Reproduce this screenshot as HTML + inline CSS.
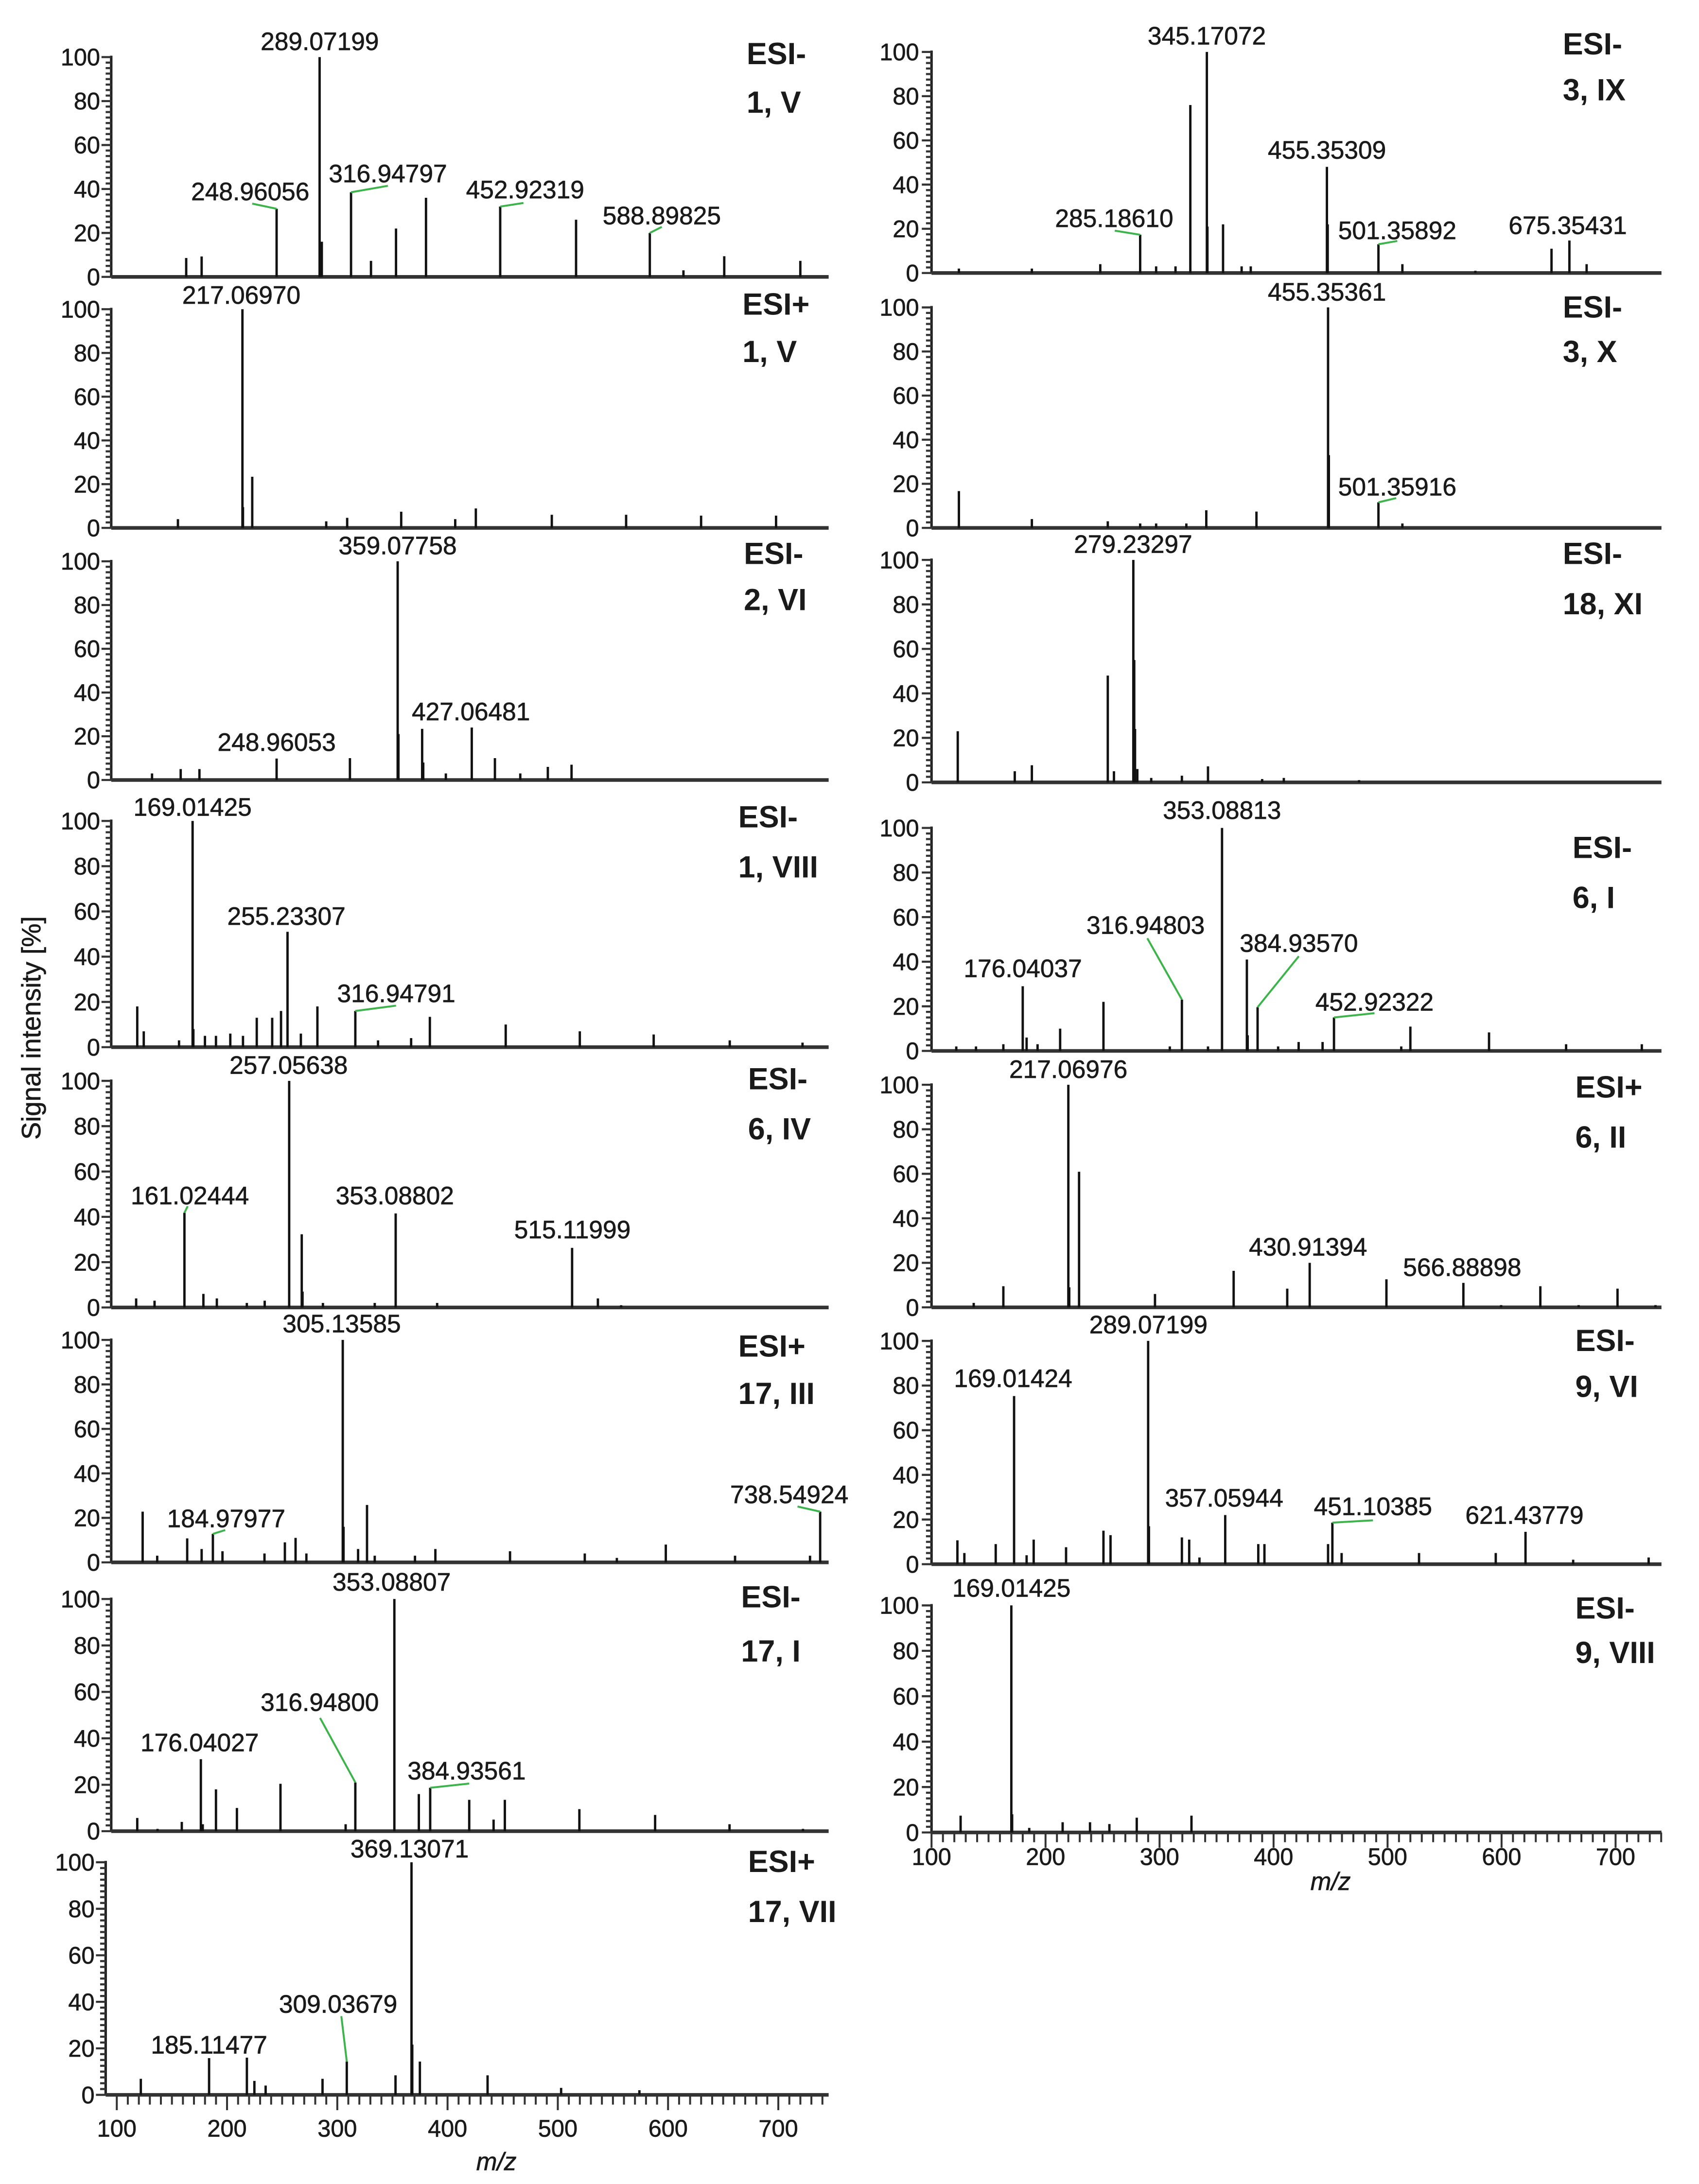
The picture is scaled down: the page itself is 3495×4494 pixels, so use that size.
<!DOCTYPE html>
<html><head><meta charset="utf-8"><title>Mass spectra</title>
<style>
html,body{margin:0;padding:0;background:#fff;}
svg{display:block;}
text{font-family:"Liberation Sans",sans-serif;fill:#1a1a1a;stroke:#1a1a1a;stroke-width:0.25;}
</style></head>
<body>
<svg id="fig" xmlns="http://www.w3.org/2000/svg" width="3495" height="4494" viewBox="0 0 1222 1568" preserveAspectRatio="none">
<rect x="0" y="0" width="1222" height="1568" fill="#ffffff"/>
<text transform="translate(29,738) rotate(-90)" text-anchor="middle" font-size="19">Signal intensity [%]</text>
</svg>
<script>
// ===== data: m/z values and relative intensities per spectrum =====
const p1_mz=[168,182,250,289,291,317.5,335.6,358.3,385.5,452.8,521.6,588.5,619,656,725];
const p1_int=[8.6,9.3,31,100,16,38.5,7.3,22,36,32,26,20,3,9.4,7.3];
const p1_lab=["289.07199","248.96056","316.94797","452.92319","588.89825"];
const p2_mz=[160.5,219,219.5,227.9,295,314,363,412,430.7,499.6,567,635,703];
const p2_int=[4,100,9.5,23.4,3,4.6,7.4,4,8.9,6,6,5.6,5.6];
const p2_lab=["217.06970"];
const p3_mz=[137,163,180,250,316.5,359.8,360.5,382,383,403.5,427,448,471,496,517.5];
const p3_int=[3,5,5,9.8,10,100,21,23.4,8,3,24,10,3,6,7];
const p3_lab=["359.07758","248.96053","427.06481"];
const p4_mz=[123.6,129.5,161.5,173.8,174.5,185,195,208,219.5,232,246,254,259.9,272,287,321.4,342,372,389,457.8,525,592,661,727];
const p4_int=[18,7,3,100,8,5,5,6,5,13,13,16,51,6,18,16,3,4,13.4,10,7,5.6,3,2];
const p4_lab=["169.01425","255.23307","316.94791"];
const p5_mz=[122.6,139.3,166.4,183.6,195.8,223,239.2,261.4,272.8,273.5,292,339,358,395.6,518,541.4,562.5];
const p5_int=[4,3,41.8,6,4,2,3,100,32.3,7,2,2,41.5,2,26.3,4,1];
const p5_lab=["257.05638","161.02444","353.08802","515.11999"];
const p6_mz=[128.5,141.7,168.9,182,192.2,200.9,239,257.5,267.2,277,310,310.7,323.9,332,339,375.5,394,461.7,529.5,558.6,603,665.8,733.8,743];
const p6_int=[22.8,3,10.8,6,12.8,5,4,9,11,4,100,16,6,25.8,3,3,6,5,4,2,8,3,3,22.8];
const p6_lab=["305.13585","184.97977","738.54924"];
const p7_mz=[123.6,142,164,181.3,183,195,214,253.5,312.6,321.4,356.8,379,389.3,424.7,446.8,457,524.6,593.3,660.8,727.4];
const p7_int=[5.7,1,4,31,3,18,10,20.4,3,21,100,16,18.7,13.5,5,13.5,9.5,7,3,1];
const p7_lab=["353.08807","316.94800","176.04027","384.93561"];
const p8_mz=[121.8,183.7,218,224.8,235,286.6,308.6,352.8,367.3,368,374.9,436.3,503,574];
const p8_int=[6.9,15.8,16,6,4,6.9,14.3,8.4,100,21.6,14.3,8.4,3,2];
const p8_lab=["369.13071","309.03679","185.11477"];
const r1_mz=[124,188,248,283,297,314,327,341.5,342,355.7,372,380,446.8,447.5,492,513,577,643.8,659.5,674.6];
const r1_int=[2,2,4,17.3,3,3,76,100,21,22,3,3,48,22,13,4,1,11,14.7,4];
const r1_lab=["345.17072","285.18610","455.35309","501.35892","675.35431"];
const r2_mz=[124,188,254.6,283,297,323.5,341,385,447.8,448.5,492,513];
const r2_int=[16.7,4,3,2,2,2,8,7.4,100,33,11.6,2];
const r2_lab=["455.35361","501.35916"];
const r3_mz=[123,173,188,254.6,260,277,277.8,278.5,280.5,292.7,319.6,342.5,390,409,475];
const r3_int=[23,5,7.7,48,5,100,55,24,6,2,3,7.2,1.5,2,1];
const r3_lab=["279.23297"];
const r4_mz=[121.7,139,163,180,183.4,193,212.8,250.8,309,319.6,342.5,354.8,376.6,377.3,386,404,422,443,453,512,520,589,656.6,723];
const r4_int=[2,2,3,29,6,3,10,22,2,23,2,100,41,7,19.6,2,4,4,15,2,10.9,8.3,3,3];
const r4_lab=["353.08813","176.04037","316.94803","384.93570","452.92322"];
const r5_mz=[137,163,220,220.8,229.4,296,365,412,431.7,499,566.5,599.6,634,667.6,701.7,735];
const r5_int=[2,9.5,100,9,60.9,6,16.4,8.4,20,12.6,11,1,9.5,1,8.4,1];
const r5_lab=["217.06976","430.91394","566.88898"];
const r6_mz=[122.7,128.8,156.3,172.4,183.4,189.6,218,250.8,257,290,290.7,319.6,326,335,357.6,386.6,392,447.8,451.6,459.7,527.6,594.9,621,662.8,729];
const r6_int=[10.7,5,9,75.3,4,11,7.6,15,13,100,17,12,11,3,22,9,9,9,18.6,5,5,5,14.5,2,3];
const r6_lab=["289.07199","169.01424","357.05944","451.10385","621.43779"];
const r7_mz=[125.5,170,170.7,185.7,215,239,256,280,328];
const r7_int=[7.4,100,8,2,4.5,4.5,3.7,6.5,7.4];
const r7_lab=["169.01425"];
const xTickValues=[100,200,300,400,500,600,700];
const yTickValues=[0,20,40,60,80,100];

// ===== layout (positions only) =====
const L={ax:80,x0:80,k:0.793,xEnd:596,lblEnd:72};
const R={ax:670,x0:670,k:0.82,xEnd:1195,lblEnd:661};
const panels=[
 {name:'esi-neg-1-v',c:L,mz:p1_mz,it:p1_int,lab:p1_lab,y0:198.8,y100:41,t:['ESI-','1, V'],tx:537,ty:[46,81],
  ll:[[230,35.9,-1],[180,143.7,2,181.4,146.2],[279,130.8,5,279,133.4],[377.7,142.4,9,376.5,145.7],[476,161,11,476,162.9]]},
 {name:'esi-pos-1-v',c:L,mz:p2_mz,it:p2_int,lab:p2_lab,y0:379,y100:222,t:['ESI+','1, V'],tx:534,ty:[226,260],
  ll:[[173.6,218,-1]]},
 {name:'esi-neg-2-vi',c:L,mz:p3_mz,it:p3_int,lab:p3_lab,y0:560,y100:403,t:['ESI-','2, VI'],tx:535,ty:[405,438],
  ll:[[286,398,-1],[199,539,-1],[338.7,517,-1]]},
 {name:'esi-neg-1-viii',c:L,mz:p4_mz,it:p4_int,lab:p4_lab,y0:751.8,y100:589.4,t:['ESI-','1, VIII'],tx:531,ty:[594,630],
  ll:[[138.5,585.7,-1],[206,664,-1],[285,719.5,15,284.8,722]]},
 {name:'esi-neg-6-iv',c:L,mz:p5_mz,it:p5_int,lab:p5_lab,y0:938.7,y100:776,t:['ESI-','6, IV'],tx:538,ty:[782,818],
  ll:[[207.6,771,-1],[136.6,864.6,2,135,866],[284,864.6,-1],[411.7,889,-1]]},
 {name:'esi-pos-17-iii',c:L,mz:p6_mz,it:p6_int,lab:p6_lab,y0:1121.7,y100:962,t:['ESI+','17, III'],tx:531,ty:[974,1008],
  ll:[[245.8,956.6,-1],[162.7,1096.4,4,162,1098.5],[567.7,1079.2,23,573.6,1081.6]]},
 {name:'esi-neg-17-i',c:L,mz:p7_mz,it:p7_int,lab:p7_lab,y0:1314.7,y100:1148,t:['ESI-','17, I'],tx:533,ty:[1154,1193],
  ll:[[281.7,1142,-1],[230,1228.4,9,230.2,1233.4],[143.6,1257.3,-1],[335.6,1277.6,12,337.5,1280.5]]},
 {name:'esi-pos-17-vii',c:{ax:76,x0:84,k:0.793,xEnd:596,lblEnd:68},mz:p8_mz,it:p8_int,lab:p8_lab,y0:1504,y100:1337,t:['ESI+','17, VII'],tx:538,ty:[1344,1380],
  ll:[[294.6,1333.5,-1],[243.2,1445,6,245.5,1447.5],[150.4,1474.3,-1]],bottom:{tickBase:1534,mzx:357,mzy:1558}},
 {name:'esi-neg-3-ix',c:R,mz:r1_mz,it:r1_int,lab:r1_lab,y0:196,y100:37.3,t:['ESI-','3, IX'],tx:1124,ty:[39,72],
  ll:[[868,31.9,-1],[801.4,163,3,801.8,165.6],[954.4,114,-1],[1005,171.7,14,1005,173],[1127.6,168,-1]]},
 {name:'esi-neg-3-x',c:R,mz:r2_mz,it:r2_int,lab:r2_lab,y0:379,y100:220.7,t:['ESI-','3, X'],tx:1124,ty:[228,260],
  ll:[[954.4,215.8,-1],[1005,355.7,10,1004.2,357.6]]},
 {name:'esi-neg-18-xi',c:R,mz:r3_mz,it:r3_int,lab:r3_lab,y0:561.7,y100:402,t:['ESI-','18, XI'],tx:1124,ty:[405,441],
  ll:[[815,396.9,-1]]},
 {name:'esi-neg-6-i',c:R,mz:r4_mz,it:r4_int,lab:r4_lab,y0:754.5,y100:594.4,t:['ESI-','6, I'],tx:1131,ty:[616,652],
  ll:[[878.9,588,-1],[735.7,701.5,-1],[824,670.4,9,825.2,673.6],[934.2,683.4,14,934.2,686.5],[988.6,725.5,18,988.6,727.4]]},
 {name:'esi-pos-6-ii',c:R,mz:r5_mz,it:r5_int,lab:r5_lab,y0:938.6,y100:778.8,t:['ESI+','6, II'],tx:1133,ty:[788,824],
  ll:[[768.4,773.8,-1],[940.8,901.4,-1],[1051.7,916,-1]]},
 {name:'esi-neg-9-vi',c:R,mz:r6_mz,it:r6_int,lab:r6_lab,y0:1123,y100:962.7,t:['ESI-','9, VI'],tx:1133,ty:[970,1003],
  ll:[[826,957.3,-1],[728.7,995.8,-1],[880.5,1081.6,-1],[987.5,1087.8,18,987.5,1091.5],[1096.5,1094,-1]]},
 {name:'esi-neg-9-viii',c:R,mz:r7_mz,it:r7_int,lab:r7_lab,y0:1315.6,y100:1152.6,t:['ESI-','9, VIII'],tx:1133,ty:[1162,1194],
  ll:[[727.5,1146.3,-1]],bottom:{tickBase:1339,mzx:957,mzy:1357}}
];

const NS='http://www.w3.org/2000/svg';
const svg=document.getElementById('fig');
function mk(tag,attrs,parent){const e=document.createElementNS(NS,tag);for(const k in attrs)e.setAttribute(k,attrs[k]);(parent||svg).appendChild(e);return e;}

panels.forEach(p=>{
  const c=p.c;
  const xs=m=>c.x0+(m-100)*c.k;
  const ys=v=>p.y0-v/100*(p.y0-p.y100);
  const g=mk('g',{});
  
  
  const ya=mk('line',{x1:c.ax,y1:ys(100)-1,x2:c.ax,y2:p.y0,stroke:'#222','stroke-width':1.8},g);
  
  
  for(let v=0;v<=100;v+=2.5){
    const major=(v%20===0);
    const t=mk('line',{x1:c.ax-(major?7:4),y1:ys(v),x2:c.ax,y2:ys(v),stroke:'#333','stroke-width':1.5},g);
    
    
  }
  yTickValues.forEach(v=>{
    const t=mk('text',{x:c.lblEnd,y:ys(v)+6,'text-anchor':'end','font-size':17},g);
    t.textContent=String(v);
    
    
  });
  const xa=mk('line',{x1:c.ax,y1:p.y0,x2:c.xEnd,y2:p.y0,stroke:'#333','stroke-width':2.6},g);
  
  
  if(p.bottom){
    for(let m=100;m<=740;m+=10){
      const major=(m%100===0);
      const t=mk('line',{x1:xs(m),y1:p.y0,x2:xs(m),y2:p.y0+(major?11:7),stroke:'#333','stroke-width':1.4},g);
      
      
    }
    xTickValues.forEach(m=>{
      const t=mk('text',{x:xs(m),y:p.bottom.tickBase,'text-anchor':'middle','font-size':17},g);
      t.textContent=String(m);
      
      
    });
    const mz=mk('text',{x:p.bottom.mzx,y:p.bottom.mzy,'text-anchor':'middle','font-size':18,'font-style':'italic'},g);
    mz.textContent='m/z';
    
    
  }
  p.mz.forEach((m,i)=>{
    const l=mk('line',{x1:xs(m),y1:p.y0,x2:xs(m),y2:ys(p.it[i]),stroke:'#111','stroke-width':1.7},g);
    
    
  });
  p.ll.forEach((d,i)=>{
    if(d[2]>=0){
      const k=d[2];
      const ld=mk('line',{x1:xs(p.mz[k]),y1:ys(p.it[k]),x2:d[3],y2:d[4],stroke:'#3cb44b','stroke-width':1.4},g);
      
      
    }
    const t=mk('text',{x:d[0],y:d[1],'text-anchor':'middle','font-size':18},g);
    t.textContent=p.lab[i];
    
    
  });
  p.t.forEach((s,i)=>{
    const t=mk('text',{x:p.tx,y:p.ty[i],'font-size':22,'font-weight':'bold','style':'stroke-width:0'},g);
    t.textContent=s;
    
    
  });
});
</script>
</body></html>
